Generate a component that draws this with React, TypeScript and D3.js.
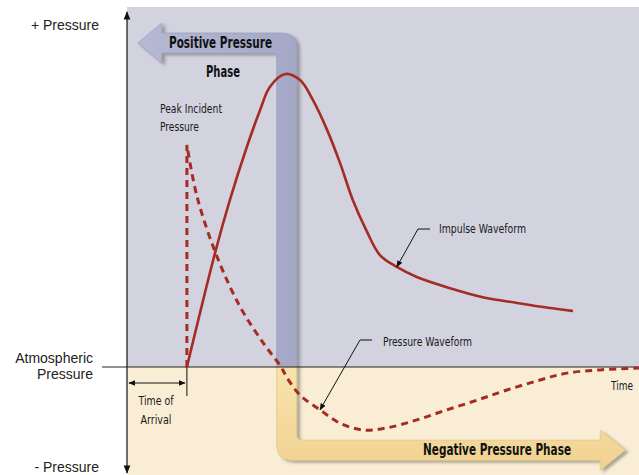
import React from 'react';
import * as d3 from 'd3';

const W = 639;
const H = 475;

// time runs 0..100 across the plot, pressure is relative (0 = atmospheric)
const pressureT = [11.7, 13.7, 17.6, 22.1, 26.6, 30.1, 31.3, 33.8, 37.7, 41.6, 46.1, 50.8, 56.6, 62.5, 68.4, 74.2, 80.7, 85.9, 92.4, 100];
const pressureP = [61.7, 47.2, 30.6, 16.7, 6.7, 0, -3.1, -7.8, -11.9, -15.6, -17.5, -16.9, -14.7, -11.9, -9.2, -6.4, -3.6, -1.7, -0.8, -0.3];

const impulseT = [11.7, 17.2, 20.1, 23.4, 26.0, 27.9, 30.9, 33.8, 36.3, 39.1, 41.6, 44.1, 46.7, 49.4, 52.7, 56.6, 63.1, 69.5, 76.2, 82.6, 86.9];
const impulseP = [0, 31.7, 46.4, 61.1, 71.4, 77.8, 81.4, 79.7, 74.2, 65.8, 56.7, 46.4, 38.1, 31.1, 27.8, 25.0, 21.9, 19.4, 17.8, 16.4, 15.6];

const arrivalTime = 11.7;
const phaseBoundary = 31.2;
const posArrowLevel = 90;
const posArrowTip = 2.1;
const negArrowLevel = -23.1;
const negArrowTip = 97.3;

const RED = '#a52c24';
const narrow = "'Liberation Sans Narrow', 'Arial Narrow', 'DejaVu Sans Condensed', sans-serif";
const plain = "'Liberation Sans', Arial, sans-serif";

// condensed labels squeezed to the widths seen in the original
const Label = ({ x, y, w, anchor = 'start', children }: any) => (
  <text x={x} y={y} textAnchor={anchor} textLength={w} lengthAdjust="spacingAndGlyphs">{children}</text>
);

export default function App() {
  const x = d3.scaleLinear().domain([0, 100]).range([127, 639]);
  const y = d3.scaleLinear().domain([-30, 100]).range([475, 7]);

  const y0 = y(0);
  const x0 = x(0);

  const line = d3.line<[number, number]>()
    .x(d => x(d[0]))
    .y(d => y(d[1]))
    .curve(d3.curveCatmullRom.alpha(0.5));

  const pressurePts: [number, number][] = pressureT.map((t, i) => [t, pressureP[i]]);
  const impulsePts: [number, number][] = impulseT.map((t, i) => [t, impulseP[i]]);

  // vertical jump at arrival, then the decaying curve
  const pressurePath = `M${x(arrivalTime)},${y0}` + (line(pressurePts) || '').replace(/^M/, 'L');
  const impulsePath = line(impulsePts) || '';

  // phase arrows
  const cx = x(phaseBoundary);
  const hw = 10, head = 20, headLen = 24, rOut = 15, rIn = 5;
  const cyP = y(posArrowLevel);
  const tipL = x(posArrowTip);
  const posPath = [
    `M${cx - hw},${y0}`,
    `L${cx - hw},${cyP + hw + rIn}`,
    `Q${cx - hw},${cyP + hw} ${cx - hw - rIn},${cyP + hw}`,
    `L${tipL + headLen},${cyP + hw}`,
    `L${tipL + headLen},${cyP + head}`,
    `L${tipL},${cyP}`,
    `L${tipL + headLen},${cyP - head}`,
    `L${tipL + headLen},${cyP - hw}`,
    `L${cx + hw - rOut},${cyP - hw}`,
    `Q${cx + hw},${cyP - hw} ${cx + hw},${cyP - hw + rOut}`,
    `L${cx + hw},${y0}Z`,
  ].join('');

  const cyN = y(negArrowLevel);
  const tipR = x(negArrowTip);
  const negPath = [
    `M${cx - hw},${y0}`,
    `L${cx - hw},${cyN + hw - rOut}`,
    `Q${cx - hw},${cyN + hw} ${cx - hw + rOut},${cyN + hw}`,
    `L${tipR - headLen - 1},${cyN + hw}`,
    `L${tipR - headLen - 1},${cyN + head}`,
    `L${tipR},${cyN}`,
    `L${tipR - headLen - 1},${cyN - head}`,
    `L${tipR - headLen - 1},${cyN - hw}`,
    `L${cx + hw + rIn},${cyN - hw}`,
    `Q${cx + hw},${cyN - hw} ${cx + hw},${cyN - hw - rIn}`,
    `L${cx + hw},${y0}Z`,
  ].join('');

  // leader lines to the curves
  const impIdx = impulseT.indexOf(52.7);
  const impTip = [x(impulseT[impIdx]), y(impulseP[impIdx])];
  const prIdx = pressureT.indexOf(37.7);
  const prTip = [x(pressureT[prIdx]), y(pressureP[prIdx])];

  const arrivalX = x(arrivalTime);

  return (
    <svg width={W} height={H} style={{ position: 'absolute', left: 0, top: 0, background: '#fff' }}>
      <defs>
        <marker id="ah" viewBox="0 0 10 10" refX="9" refY="5" markerWidth="7" markerHeight="7" orient="auto-start-reverse">
          <path d="M0,1 L10,5 L0,9 Z" fill="#111" />
        </marker>
        <filter id="shadow" x="-10%" y="-10%" width="130%" height="130%">
          <feDropShadow dx="3" dy="2" stdDeviation="1.6" floodColor="#444" floodOpacity="0.45" />
        </filter>
        <linearGradient id="posGrad" x1="0" x2="1" y1="0" y2="0">
          <stop offset="0" stopColor="#b6b9d3" />
          <stop offset="1" stopColor="#a4a8c6" />
        </linearGradient>
        <linearGradient id="negGrad" x1="0" x2="0" y1="0" y2="1">
          <stop offset="0" stopColor="#f8e2ae" />
          <stop offset="1" stopColor="#f1d391" />
        </linearGradient>
      </defs>

      {/* backgrounds */}
      <rect x={x0} y={y(100)} width={W - x0} height={y0 - y(100)} fill="#d3d3e0" />
      <rect x={x0} y={y0} width={W - x0} height={H - y0} fill="#f9eed5" />

      {/* phase arrows */}
      <path d={posPath} fill="url(#posGrad)" stroke="#9da1bf" strokeWidth={0.8} filter="url(#shadow)" />
      <path d={negPath} fill="url(#negGrad)" stroke="#e6c684" strokeWidth={0.8} filter="url(#shadow)" />

      {/* axes */}
      <line x1={x0} x2={x0} y1={12} y2={H - 2} stroke="#111" strokeWidth={1.2}
        markerStart="url(#ah)" markerEnd="url(#ah)" />
      <line x1={102} x2={W} y1={y0} y2={y0} stroke="#222" strokeWidth={1} />

      {/* time of arrival */}
      <line x1={x0 + 2} x2={arrivalX - 2} y1={383} y2={383} stroke="#111" strokeWidth={1}
        markerStart="url(#ah)" markerEnd="url(#ah)" />
      <line x1={arrivalX} x2={arrivalX} y1={y0} y2={396} stroke="#111" strokeWidth={1} />

      {/* waveforms */}
      <path d={impulsePath} fill="none" stroke={RED} strokeWidth={2.6} strokeLinecap="round" />
      <path d={pressurePath} fill="none" stroke={RED} strokeWidth={3} strokeDasharray="7,5" />

      {/* leaders */}
      <path d={`M430,229 L418,229 L${impTip[0]},${impTip[1]}`} fill="none" stroke="#111" strokeWidth={1} markerEnd="url(#ah)" />
      <path d={`M372,340 L360,340 L${prTip[0]},${prTip[1]}`} fill="none" stroke="#111" strokeWidth={1} markerEnd="url(#ah)" />

      {/* left labels */}
      <g fontFamily={plain} fontSize={14} fill="#222" textAnchor="end">
        <text x={99} y={30}>+ Pressure</text>
        <text x={93} y={363}>Atmospheric</text>
        <text x={93} y={379}>Pressure</text>
        <text x={99} y={472}>- Pressure</text>
      </g>

      {/* annotations */}
      <g fontFamily={narrow} fontSize={13} fill="#1a1a1a">
        <Label x={160} y={113} w={62}>Peak Incident</Label>
        <Label x={160} y={131} w={39}>Pressure</Label>
        <Label x={156} y={405} w={35} anchor="middle">Time of</Label>
        <Label x={156} y={424} w={31} anchor="middle">Arrival</Label>
        <Label x={439} y={233} w={87}>Impulse Waveform</Label>
        <Label x={383} y={346} w={89}>Pressure Waveform</Label>
        <Label x={611} y={390} w={22}>Time</Label>
      </g>

      <g fontFamily={narrow} fontSize={15.5} fontWeight="bold" fill="#111">
        <Label x={169} y={48} w={103}>Positive Pressure</Label>
        <Label x={206} y={77} w={34}>Phase</Label>
        <Label x={423} y={455} w={148}>Negative Pressure Phase</Label>
      </g>
    </svg>
  );
}
